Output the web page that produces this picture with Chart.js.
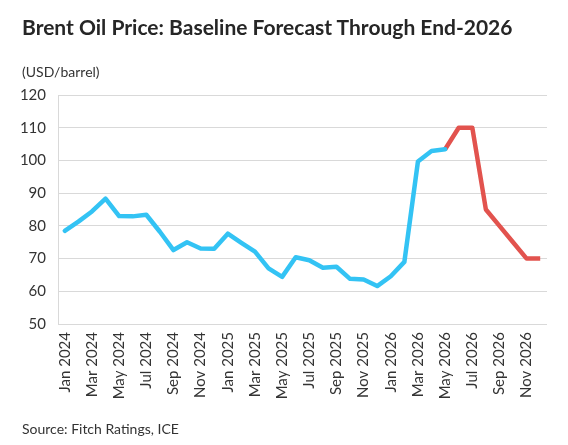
<!DOCTYPE html>
<html>
<head>
<meta charset="utf-8">
<script src="https://cdn.jsdelivr.net/npm/chart.js@4.4.1/dist/chart.umd.min.js"></script>
<style>
  html, body { margin: 0; padding: 0; background: #ffffff; }
  #wrap { position: relative; width: 568px; height: 445px; font-family: Lato, "Noto Sans", sans-serif; color: #262626; }
  #title { position: absolute; left: 22px; top: 14px; font-size: 21px; font-weight: bold; white-space: nowrap; }
  #unit { position: absolute; left: 22px; top: 63px; font-size: 14px; color: #333333; }
  #source { position: absolute; left: 22px; top: 420px; font-size: 14px; color: #333333; }
  canvas { position: absolute; left: 0; top: 0; }
</style>
</head>
<body>
<div id="wrap">
  <canvas id="oilChart" width="568" height="445"></canvas>
  <div id="title">Brent Oil Price: Baseline Forecast Through End-2026</div>
  <div id="unit">(USD/barrel)</div>
  <div id="source">Source: Fitch Ratings, ICE</div>
</div>
<script>
// Months Jan 2024 - Dec 2026
const months = [
    'Jan 2024', 'Feb 2024', 'Mar 2024', 'Apr 2024', 'May 2024', 'Jun 2024',
    'Jul 2024', 'Aug 2024', 'Sep 2024', 'Oct 2024', 'Nov 2024', 'Dec 2024',
    'Jan 2025', 'Feb 2025', 'Mar 2025', 'Apr 2025', 'May 2025', 'Jun 2025',
    'Jul 2025', 'Aug 2025', 'Sep 2025', 'Oct 2025', 'Nov 2025', 'Dec 2025',
    'Jan 2026', 'Feb 2026', 'Mar 2026', 'Apr 2026', 'May 2026', 'Jun 2026',
    'Jul 2026', 'Aug 2026', 'Sep 2026', 'Oct 2026', 'Nov 2026', 'Dec 2026'
];

// Actual prices (blue), up to May 2026
const actualPrices = [
    78.5, 81.3, 84.4, 88.3, 83.0, 82.9,
    83.4, 78.2, 72.6, 75.0, 73.1, 73.0,
    77.6, 74.8, 72.1, 67.0, 64.4, 70.4,
    69.5, 67.2, 67.5, 63.8, 63.6, 61.6,
    64.6, 69.0, 99.7, 102.9, 103.4, null,
    null, null, null, null, null, null
];

// Forecast prices (red), from May 2026
const forecastPrices = [
    null, null, null, null, null, null,
    null, null, null, null, null, null,
    null, null, null, null, null, null,
    null, null, null, null, null, null,
    null, null, null, null, 103.4, 110.0,
    110.0, 85.0, 80.0, 75.0, 70.0, 70.0
];

const yTicks = [50, 60, 70, 80, 90, 100, 110, 120];

const tickFont = { family: 'Lato', size: 15 };
const gridGrey = '#d9d9d9';

const ctx = document.getElementById('oilChart').getContext('2d');
const oilChart = new Chart(ctx, {
    type: 'line',
    data: {
        labels: months,
        datasets: [
            {
                label: 'Actual',
                data: actualPrices,
                borderColor: '#33c3f4',
                backgroundColor: 'transparent',
                borderWidth: 4.5,
                pointRadius: 0,
                tension: 0,
                borderJoinStyle: 'round',
                borderCapStyle: 'round'
            },
            {
                label: 'Forecast',
                data: forecastPrices,
                borderColor: '#e2534e',
                backgroundColor: 'transparent',
                borderWidth: 4.5,
                pointRadius: 0,
                tension: 0,
                borderJoinStyle: 'round',
                borderCapStyle: 'butt'
            }
        ]
    },
    options: {
        responsive: false,
        animation: false,
        layout: {
            padding: { top: 95, right: 21, bottom: 0, left: 0 }
        },
        plugins: {
            legend: { display: false },
            title: { display: false },
            tooltip: { enabled: false }
        },
        scales: {
            x: {
                offset: true,
                grid: { display: false, drawTicks: false },
                border: { display: false },
                ticks: {
                    autoSkip: false,
                    minRotation: 90,
                    maxRotation: 90,
                    padding: 8,
                    color: '#333333',
                    font: tickFont,
                    // label every other month
                    callback: function (value, index) {
                        return index % 2 === 0 ? months[index] : '';
                    }
                },
                afterFit: function (scale) {
                    scale.height = 121;
                }
            },
            y: {
                min: 50,
                max: 120,
                afterBuildTicks: function (scale) {
                    scale.ticks = yTicks.map(v => ({ value: v }));
                },
                grid: { color: gridGrey, lineWidth: 1, drawTicks: false },
                border: { display: true, color: gridGrey, width: 1 },
                ticks: {
                    padding: 12,
                    color: '#333333',
                    font: tickFont
                },
                afterFit: function (scale) {
                    scale.width = 58;
                }
            }
        }
    }
});
</script>
</body>
</html>
